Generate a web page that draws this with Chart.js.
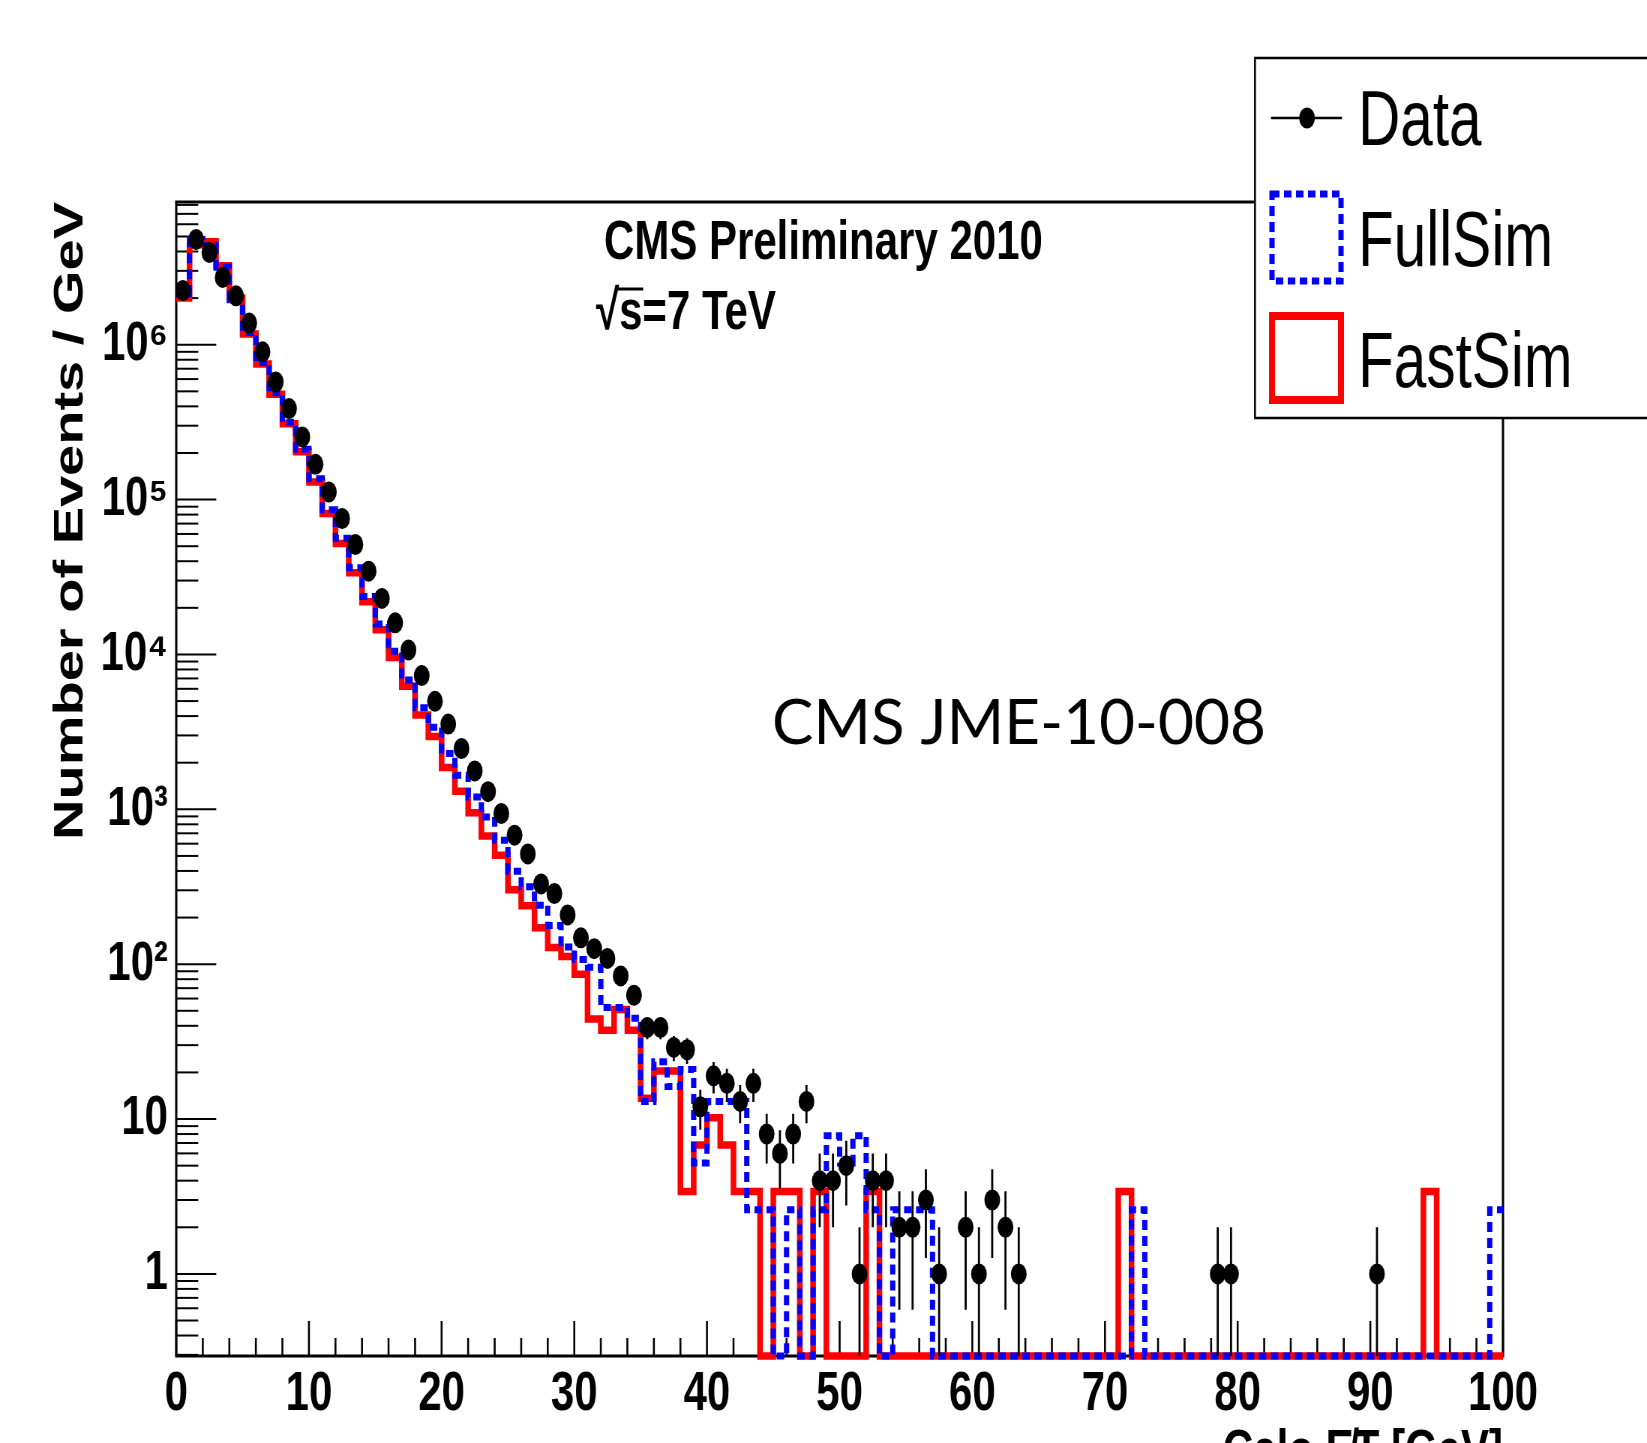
<!DOCTYPE html>
<html>
<head>
<meta charset="utf-8">
<script src="https://cdn.jsdelivr.net/npm/chart.js@4.4.1/dist/chart.umd.min.js"></script>
<style>
html,body{margin:0;padding:0;background:#fff;overflow:hidden;width:1647px;height:1443px;}
#wrap{position:absolute;left:0;top:0;width:2196px;height:1443px;transform:scaleX(0.75);transform-origin:0 0;}
canvas{display:block;}
</style>
</head>
<body>
<div id="wrap"><canvas id="c" width="2196" height="1443"></canvas></div>
<script>
// ---------------- data (1 GeV bins, 0-100 GeV) ----------------
const BIN_LOW_EDGES = [0,1,2,3,4,5,6,7,8,9,10,11,12,13,14,15,16,17,18,19,20,21,22,23,24,25,26,27,28,29,30,31,32,33,34,35,36,37,38,39,40,41,42,43,44,45,46,47,48,49,50,51,52,53,54,55,56,57,58,59,60,61,62,63,64,65,66,67,68,69,70,71,72,73,74,75,76,77,78,79,80,81,82,83,84,85,86,87,88,89,90,91,92,93,94,95,96,97,98,99];
const BIN_WIDTH = 1;
const X_MAX = 100;

const DATA_COUNTS = [
  2240000, 4790000, 3940000, 2720000, 2070000, 1380000, 900000, 575000, 387000, 254000,
  169000, 112000, 75500, 51300, 34500, 23000, 16000, 10700, 7300, 4980,
  3550, 2470, 1770, 1300, 940, 681, 515, 330, 286, 208,
  148, 126, 109, 84, 63, 39, 39, 29, 28, 12,
  19, 17, 13, 17, 8, 6, 8, 13, 4, 4,
  5, 1, 4, 4, 2, 2, 3, 1, 0, 2,
  1, 3, 2, 1, 0, 0, 0, 0, 0, 0,
  0, 0, 0, 0, 0, 0, 0, 0, 1, 1,
  0, 0, 0, 0, 0, 0, 0, 0, 0, 0,
  1, 0, 0, 0, 0, 0, 0, 0, 0, 0
];

const FULLSIM = [
  2140000, 4790000, 4370000, 3160000, 1950000, 1200000, 767000, 490000, 316000, 211000,
  136500, 86100, 56200, 36300, 23700, 15700, 10500, 6840, 4520, 3390,
  2290, 1660, 1200, 891, 631, 398, 316, 240, 178, 129,
  107, 95.5, 52.5, 52.5, 44.7, 13, 23.4, 16.2, 20.9, 5.2,
  13, 13, 13, 2.6, 2.6, 0, 2.6, 0, 2.6, 7.8,
  5.2, 7.8, 2.6, 0, 2.6, 2.6, 2.6, 0, 0, 0,
  0, 0, 0, 0, 0, 0, 0, 0, 0, 0,
  0, 0, 2.6, 0, 0, 0, 0, 0, 0, 0,
  0, 0, 0, 0, 0, 0, 0, 0, 0, 0,
  0, 0, 0, 0, 0, 0, 0, 0, 0, 2.6
];

const FASTSIM = [
  2000000, 4420000, 4620000, 3240000, 2000000, 1175000, 750000, 479000, 309000, 204000,
  130000, 81300, 52100, 33700, 21900, 14450, 9550, 6240, 4060, 2950,
  1860, 1310, 951, 673, 506, 302, 238, 172, 128, 112,
  86, 44.2, 37.4, 51, 37.4, 13.6, 20.4, 20.4, 3.4, 6.8,
  10.2, 6.8, 3.4, 3.4, 0, 3.4, 3.4, 0, 3.4, 0,
  0, 0, 3.4, 0, 0, 0, 0, 0, 0, 0,
  0, 0, 0, 0, 0, 0, 0, 0, 0, 0,
  0, 3.4, 0, 0, 0, 0, 0, 0, 0, 0,
  0, 0, 0, 0, 0, 0, 0, 0, 0, 0,
  0, 0, 0, 0, 3.4, 0, 0, 0, 0, 0
];

const X_TICKS = [0, 10, 20, 30, 40, 50, 60, 70, 80, 90, 100];
const Y_TICKS = [1, 10, 100, 1000, 10000, 100000, 1000000];
const Y_TICK_LABELS = ['1', '10', '10²', '10³', '10⁴', '10⁵', '10⁶'];
const Y_MIN = 0.295;
const Y_MAX = 8.35e6;

const SERIES_NAMES = ['Data', 'FullSim', 'FastSim'];
const X_TITLE = 'Calo E̸T [GeV]';
const Y_TITLE = 'Number of Events / GeV';

// ---------------- layout (canvas drawn wide, squeezed horizontally) ----------------
const S = 0.75;           // horizontal squeeze of the whole picture
const W = 2196, H = 1443; // inner canvas size
const FONT = '"Liberation Sans", Arial, Helvetica, sans-serif';
const MARKER_R = 10.5;

Chart.defaults.font.family = FONT;
Chart.defaults.color = '#000';

function histPoints(vals) {
  const pts = vals.map((v, i) => ({ x: BIN_LOW_EDGES[i], y: Math.max(v, Y_MIN) }));
  pts.push({ x: X_MAX, y: Math.max(vals[vals.length - 1], Y_MIN) });
  return pts;
}

const dataPts = [];
const errPts = [];
DATA_COUNTS.forEach((n, i) => {
  if (n <= 0) return;
  const xc = BIN_LOW_EDGES[i] + BIN_WIDTH / 2;
  dataPts.push({ x: xc, y: n });
  const e = Math.sqrt(n);
  errPts.push({ x: xc, y: Math.max(n - e, Y_MIN) }, { x: xc, y: n + e }, { x: xc, y: null });
});

const BLUE = '#0000ff', RED = '#ff0000';

const rootStyle = {
  id: 'rootStyle',
  beforeDatasetsDraw(chart) {
    const { ctx, chartArea: a, scales: { x, y } } = chart;
    ctx.save();
    ctx.strokeStyle = '#000';
    // y-axis ticks (log, inside the frame)
    ctx.lineWidth = 2;
    for (let d = -1; d <= 6; d++) {
      for (let m = 1; m <= 9; m++) {
        const v = m * Math.pow(10, d);
        if (v < y.min || v > y.max) continue;
        const p = y.getPixelForValue(v);
        const len = (m === 1 ? 40 : 22) / S;
        ctx.beginPath(); ctx.moveTo(a.left, p); ctx.lineTo(a.left + len, p); ctx.stroke();
      }
    }
    // x-axis ticks
    ctx.lineWidth = 2.6;
    for (let v = x.min; v <= x.max; v += 2) {
      const p = x.getPixelForValue(v);
      const len = v % 10 === 0 ? 35 : 18;
      ctx.beginPath(); ctx.moveTo(p, a.bottom); ctx.lineTo(p, a.bottom - len); ctx.stroke();
    }
    // frame
    ctx.lineWidth = 3;
    ctx.strokeRect(a.left, a.top, a.right - a.left, a.bottom - a.top);
    ctx.restore();
  },
  afterDraw(chart) {
    const { ctx } = chart;
    ctx.save();
    // header texts
    ctx.fillStyle = '#000';
    ctx.textAlign = 'left';
    ctx.textBaseline = 'alphabetic';
    ctx.font = 'bold 56px ' + FONT;
    ctx.fillText('CMS Preliminary 2010', 604 / S, 259);
    const sx = 596 / S;
    ctx.fillText('√s=7 TeV', sx, 329);
    const w1 = ctx.measureText('√').width, w2 = ctx.measureText('s').width;
    ctx.strokeStyle = '#000';
    ctx.lineWidth = 3;
    ctx.beginPath(); ctx.moveTo(sx + w1 - 3, 289); ctx.lineTo(sx + w1 + w2 + 1, 289); ctx.stroke();

    // legend box
    const lx = 1255 / S;
    ctx.fillStyle = '#fff';
    ctx.fillRect(lx, 58, W - lx + 20, 360);
    ctx.strokeStyle = '#000';
    ctx.lineWidth = 2.5;
    ctx.strokeRect(lx, 58, W - lx + 20, 360);
    // Data entry
    ctx.lineWidth = 2.5;
    ctx.beginPath(); ctx.moveTo(1271 / S, 118); ctx.lineTo(1342 / S, 118); ctx.stroke();
    ctx.fillStyle = '#000';
    ctx.beginPath(); ctx.arc(1307 / S, 118, MARKER_R, 0, Math.PI * 2); ctx.fill();
    // FullSim entry
    ctx.strokeStyle = BLUE; ctx.lineWidth = 7; ctx.setLineDash([10, 6]);
    ctx.strokeRect(1272 / S, 194, 69 / S, 87);
    // FastSim entry
    ctx.setLineDash([]);
    ctx.strokeStyle = RED; ctx.lineWidth = 8;
    ctx.strokeRect(1272 / S, 316, 69 / S, 84);
    // legend texts
    ctx.fillStyle = '#000';
    ctx.font = '78px ' + FONT;
    ctx.fillText(SERIES_NAMES[0], 1358 / S, 145);
    ctx.fillText(SERIES_NAMES[1], 1358 / S, 266);
    ctx.fillText(SERIES_NAMES[2], 1358 / S, 387);

    // annotation added on top (not squeezed)
    ctx.scale(1 / S, 1);
    ctx.font = '62px Lato, "Open Sans", sans-serif';
    ctx.fillText('CMS JME-10-008', 772, 744);
    ctx.restore();
  }
};

new Chart(document.getElementById('c'), {
  type: 'scatter',
  data: {
    datasets: [
      { label: SERIES_NAMES[0], type: 'scatter', data: dataPts, pointRadius: MARKER_R, pointHoverRadius: MARKER_R,
        pointBackgroundColor: '#000', pointBorderColor: '#000', pointBorderWidth: 0, showLine: false, order: 0 },
      { label: 'Data errors', type: 'line', data: errPts, borderColor: '#000', borderWidth: 2.8,
        pointRadius: 0, pointHoverRadius: 0, spanGaps: false, fill: false, order: 1 },
      { label: SERIES_NAMES[1], type: 'line', data: histPoints(FULLSIM), stepped: 'before',
        borderColor: BLUE, borderWidth: 7, borderDash: [10, 6], borderCapStyle: 'butt', borderJoinStyle: 'miter',
        pointRadius: 0, pointHoverRadius: 0, fill: false, clip: false, order: 2 },
      { label: SERIES_NAMES[2], type: 'line', data: histPoints(FASTSIM), stepped: 'before',
        borderColor: RED, borderWidth: 7.5, borderCapStyle: 'butt', borderJoinStyle: 'miter',
        pointRadius: 0, pointHoverRadius: 0, fill: false, clip: false, order: 3 }
    ]
  },
  options: {
    responsive: false,
    devicePixelRatio: 1,
    animation: false,
    events: [],
    layout: { padding: { left: 0, top: 202, right: W - 2004, bottom: 0 } },
    plugins: { legend: { display: false }, tooltip: { enabled: false } },
    scales: {
      x: {
        type: 'linear', position: 'bottom', min: 0, max: X_MAX, offset: false,
        afterFit: s => { s.height = 87; },
        afterBuildTicks: s => { s.ticks = X_TICKS.map(v => ({ value: v })); },
        grid: { display: false, drawTicks: false },
        border: { display: false },
        ticks: { autoSkip: false, maxRotation: 0, padding: 5, color: '#000',
                 font: { size: 56, weight: 'bold' }, callback: (v) => String(v) },
        title: { display: true, text: X_TITLE, align: 'end', color: '#000',
                 font: { size: 56, weight: 'bold' }, padding: { top: 0, bottom: -43 } }
      },
      y: {
        type: 'logarithmic', position: 'left', min: Y_MIN, max: Y_MAX,
        afterFit: s => { s.width = 235; },
        afterBuildTicks: s => { s.ticks = Y_TICKS.map(v => ({ value: v })); },
        grid: { display: false, drawTicks: false },
        border: { display: false },
        ticks: { autoSkip: false, padding: 11, color: '#000', font: { size: 56, weight: 'bold' },
                 callback: (v, i) => Y_TICK_LABELS[i] },
        title: { display: true, text: Y_TITLE, align: 'end', color: '#000',
                 font: { size: 56, weight: 'bold' }, padding: { top: 61, bottom: 0 } }
      }
    }
  },
  plugins: [rootStyle]
});
</script>
</body>
</html>
